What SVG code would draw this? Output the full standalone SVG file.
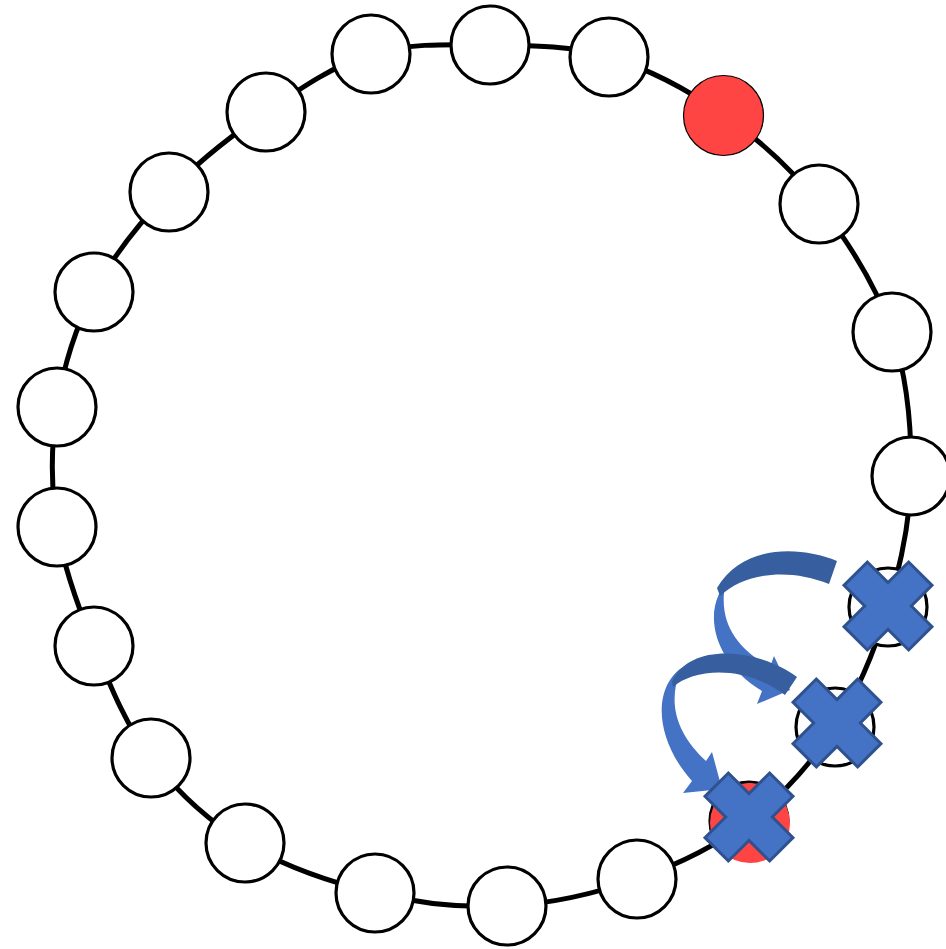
<svg xmlns="http://www.w3.org/2000/svg" xmlns:xlink="http://www.w3.org/1999/xlink" width="946" height="949" viewBox="0 0 946 949">
<style>
.ring{fill:none;stroke:#000;stroke-width:5}
.node{fill:#fff;stroke:#000;stroke-width:3.2}
.red{fill:#FF4444}
.light{fill:#4472C4}
.dark{fill:#375E9E}
.x{fill:#4472C4;stroke:#2F528F;stroke-width:3;stroke-linejoin:miter}
</style>
<defs>
<path id="xmark" d="M45.7,-16.5 L45.7,16.5 L16.5,16.5 L16.5,45.7 L-16.5,45.7 L-16.5,16.5 L-45.7,16.5 L-45.7,-16.5 L-16.5,-16.5 L-16.5,-45.7 L16.5,-45.7 L16.5,-16.5 Z"/>
</defs>
<rect width="946" height="949" fill="#fff"/>
<g id="connectors">
<path class="ring" d="M371,54 C408.3,42.8 450.3,44.5 490,45 C529.7,45.5 570,45.3 609,57 C648,68.7 689,90.5 724,115 C759,139.5 791,167.8 819,204 C847,240.2 876.7,286.7 892,332 C907.3,377.3 911.7,430.2 911,476 C910.3,521.8 900.7,565.2 888,607 C875.3,648.8 858.2,691.3 835,727 C811.8,762.7 782,795.7 749,821 C716,846.3 677.3,864.8 637,879 C596.7,893.2 550.7,903.7 507,906 C463.3,908.3 418.7,903.5 375,893 C331.3,882.5 282.3,865.5 245,843 C207.7,820.5 176.2,790.8 151,758 C125.8,725.2 109.7,684.5 94,646 C78.3,607.5 63.2,566.8 57,527 C50.8,487.2 50.8,446.2 57,407 C63.2,367.8 75.3,327.8 94,292 C112.7,256.2 140.3,222 169,192 C197.7,162 232.3,135 266,112 C299.7,89 333.7,65.2 371,54 Z"/>
</g>
<g id="node1"><circle class="node" cx="371" cy="54" r="39"/></g>
<g id="node2"><circle class="node" cx="490" cy="45" r="39"/></g>
<g id="node3"><circle class="node" cx="609" cy="57" r="39"/></g>
<g id="node4"><circle class="red" cx="723.5" cy="115.5" r="40" stroke="#000" stroke-width="1.2"/></g>
<g id="node5"><circle class="node" cx="819" cy="204" r="39"/></g>
<g id="node6"><circle class="node" cx="892" cy="332" r="39"/></g>
<g id="node7"><circle class="node" cx="911" cy="476" r="39"/></g>
<g id="node8"><circle class="node" cx="888" cy="607" r="39"/></g>
<g id="node9"><circle class="node" cx="835" cy="727" r="39"/></g>
<g id="node10"><circle class="node" cx="749" cy="821" r="39"/><circle class="red" cx="750" cy="823" r="40"/></g>
<g id="node11"><circle class="node" cx="637" cy="879" r="39"/></g>
<g id="node12"><circle class="node" cx="507" cy="906" r="39"/></g>
<g id="node13"><circle class="node" cx="375" cy="893" r="39"/></g>
<g id="node14"><circle class="node" cx="245" cy="843" r="39"/></g>
<g id="node15"><circle class="node" cx="151" cy="758" r="39"/></g>
<g id="node16"><circle class="node" cx="94" cy="646" r="39"/></g>
<g id="node17"><circle class="node" cx="57" cy="527" r="39"/></g>
<g id="node18"><circle class="node" cx="57" cy="407" r="39"/></g>
<g id="node19"><circle class="node" cx="94" cy="292" r="39"/></g>
<g id="node20"><circle class="node" cx="169" cy="192" r="39"/></g>
<g id="node21"><circle class="node" cx="266" cy="112" r="39"/></g>
<g id="arrows">
<path class="light" d="M732,578 C703,600 706,657 762,691 L757,704 L790,690 L774,656 L770,667 C740,650 718,625 725,586 Z"/>
<path class="dark" d="M837,561 C800,546 743,544 717,588 L720,596 C745,572 790,568 829,584 Z"/>
<path class="light" d="M700,660 C653,670 648,732 692,781 L683,793 L722,789 L712,752 L706,761 C678,735 667,705 680,672 Z"/>
<path class="dark" d="M797,677 C760,649 690,641 672,682 L673,687 C695,668 745,665 785,695 Z"/>
</g>
<g id="marks">
<use xlink:href="#xmark" class="x" transform="translate(888,606) rotate(45)"/>
<use xlink:href="#xmark" class="x" transform="translate(837,723) rotate(45)"/>
<use xlink:href="#xmark" class="x" transform="translate(749,817) rotate(45)"/>
</g>
</svg>
